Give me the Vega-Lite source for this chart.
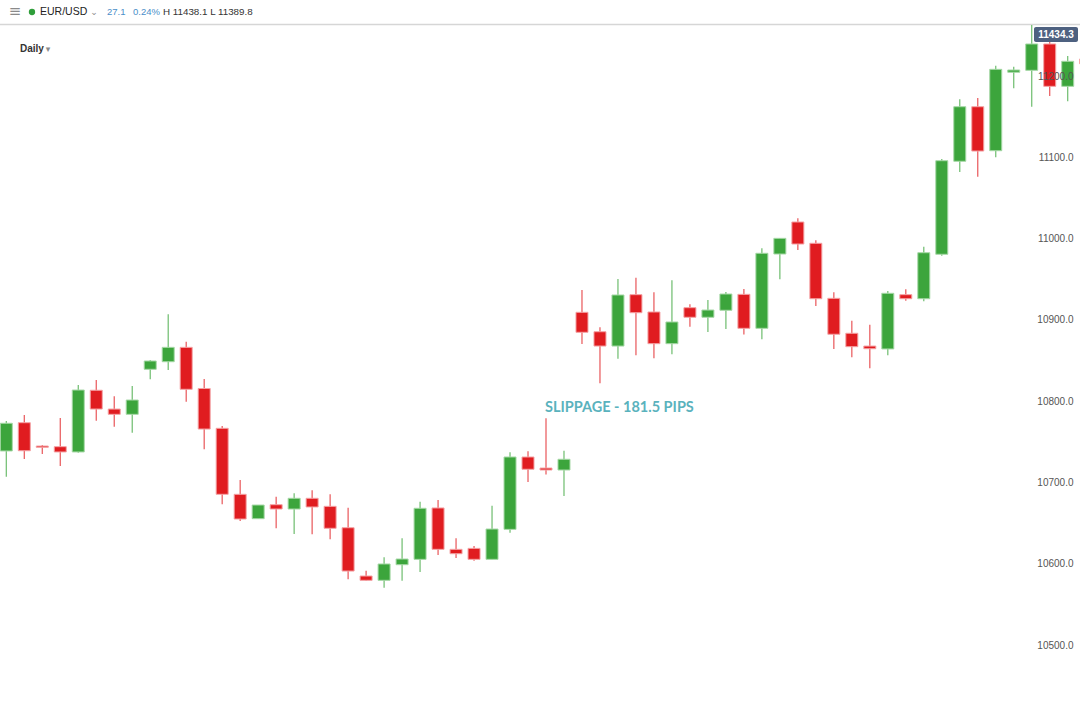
{
  "$schema": "https://vega.github.io/schema/vega-lite/v6.json",
  "width": 1080,
  "height": 702,
  "autosize": "none",
  "padding": 0,
  "background": "white",
  "config": {"view": {"stroke": null}, "axis": {"zindex": 2}},
  "datasets": {
    "candles": [
      {"i": 1, "o": 10738.7, "c": 10772.8, "h": 10775.6, "l": 10707.1},
      {"i": 2, "o": 10773.5, "c": 10739.0, "h": 10783.0, "l": 10728.8},
      {"i": 3, "o": 10744.8, "c": 10743.2, "h": 10746.1, "l": 10735.0},
      {"i": 4, "o": 10744.0, "c": 10737.5, "h": 10779.3, "l": 10720.2},
      {"i": 5, "o": 10737.5, "c": 10813.7, "h": 10819.9, "l": 10736.6},
      {"i": 6, "o": 10813.4, "c": 10790.3, "h": 10826.0, "l": 10776.0},
      {"i": 7, "o": 10790.3, "c": 10783.8, "h": 10806.0, "l": 10768.6},
      {"i": 8, "o": 10783.8, "c": 10801.4, "h": 10818.6, "l": 10761.2},
      {"i": 9, "o": 10839.2, "c": 10849.4, "h": 10850.6, "l": 10826.9},
      {"i": 10, "o": 10848.5, "c": 10866.2, "h": 10906.8, "l": 10838.3},
      {"i": 11, "o": 10866.2, "c": 10814.6, "h": 10873.1, "l": 10799.3},
      {"i": 12, "o": 10815.6, "c": 10765.7, "h": 10827.2, "l": 10740.8},
      {"i": 13, "o": 10766.6, "c": 10685.4, "h": 10769.4, "l": 10673.1},
      {"i": 14, "o": 10685.4, "c": 10655.0, "h": 10703.0, "l": 10652.6},
      {"i": 15, "o": 10655.4, "c": 10672.2, "h": 10672.2, "l": 10655.4},
      {"i": 16, "o": 10672.6, "c": 10667.3, "h": 10682.5, "l": 10643.6},
      {"i": 17, "o": 10667.3, "c": 10680.5, "h": 10686.6, "l": 10636.6},
      {"i": 18, "o": 10680.5, "c": 10669.8, "h": 10690.3, "l": 10636.2},
      {"i": 19, "o": 10670.6, "c": 10643.6, "h": 10685.4, "l": 10630.1},
      {"i": 20, "o": 10644.3, "c": 10591.0, "h": 10668.9, "l": 10580.8},
      {"i": 21, "o": 10584.9, "c": 10579.6, "h": 10591.4, "l": 10579.1},
      {"i": 22, "o": 10579.6, "c": 10599.7, "h": 10607.9, "l": 10570.5},
      {"i": 23, "o": 10598.8, "c": 10605.8, "h": 10631.3, "l": 10579.1},
      {"i": 24, "o": 10605.4, "c": 10668.2, "h": 10676.3, "l": 10589.8},
      {"i": 25, "o": 10668.6, "c": 10617.7, "h": 10678.4, "l": 10610.7},
      {"i": 26, "o": 10617.7, "c": 10612.3, "h": 10631.3, "l": 10607.0},
      {"i": 27, "o": 10618.9, "c": 10605.4, "h": 10621.8, "l": 10603.7},
      {"i": 28, "o": 10605.4, "c": 10642.7, "h": 10671.4, "l": 10605.4},
      {"i": 29, "o": 10642.3, "c": 10731.3, "h": 10737.1, "l": 10638.2},
      {"i": 30, "o": 10731.3, "c": 10716.2, "h": 10738.3, "l": 10700.5},
      {"i": 31, "o": 10717.7, "c": 10715.3, "h": 10778.9, "l": 10709.9},
      {"i": 32, "o": 10715.3, "c": 10728.5, "h": 10739.0, "l": 10683.3},
      {"i": 33, "o": 10909.3, "c": 10884.7, "h": 10936.7, "l": 10870.3},
      {"i": 34, "o": 10885.4, "c": 10867.8, "h": 10890.9, "l": 10822.0},
      {"i": 35, "o": 10867.8, "c": 10930.6, "h": 10950.3, "l": 10852.2},
      {"i": 36, "o": 10931.0, "c": 10908.8, "h": 10951.9, "l": 10856.4},
      {"i": 37, "o": 10909.7, "c": 10870.7, "h": 10933.9, "l": 10852.7},
      {"i": 38, "o": 10870.7, "c": 10897.4, "h": 10948.7, "l": 10857.6},
      {"i": 39, "o": 10915.0, "c": 10903.2, "h": 10919.1, "l": 10891.6},
      {"i": 40, "o": 10903.2, "c": 10912.1, "h": 10924.4, "l": 10885.1},
      {"i": 41, "o": 10911.8, "c": 10931.8, "h": 10934.3, "l": 10888.7},
      {"i": 42, "o": 10931.4, "c": 10889.6, "h": 10938.0, "l": 10882.0},
      {"i": 43, "o": 10889.6, "c": 10981.9, "h": 10988.0, "l": 10876.1},
      {"i": 44, "o": 10981.0, "c": 11000.3, "h": 11000.3, "l": 10949.9},
      {"i": 45, "o": 11020.4, "c": 10993.3, "h": 11024.9, "l": 10986.0},
      {"i": 46, "o": 10994.2, "c": 10926.0, "h": 10997.9, "l": 10917.1},
      {"i": 47, "o": 10926.5, "c": 10882.3, "h": 10933.9, "l": 10864.2},
      {"i": 48, "o": 10883.5, "c": 10867.0, "h": 10898.9, "l": 10853.9},
      {"i": 49, "o": 10867.8, "c": 10864.5, "h": 10894.0, "l": 10840.4},
      {"i": 50, "o": 10864.2, "c": 10932.7, "h": 10935.5, "l": 10856.4},
      {"i": 51, "o": 10931.0, "c": 10926.0, "h": 10937.6, "l": 10923.6},
      {"i": 52, "o": 10926.0, "c": 10982.6, "h": 10990.0, "l": 10922.8},
      {"i": 53, "o": 10980.7, "c": 11095.8, "h": 11097.9, "l": 10978.9},
      {"i": 54, "o": 11095.1, "c": 11162.2, "h": 11171.3, "l": 11081.9},
      {"i": 55, "o": 11162.2, "c": 11107.7, "h": 11173.0, "l": 11076.1},
      {"i": 56, "o": 11108.1, "c": 11208.2, "h": 11212.7, "l": 11100.0},
      {"i": 57, "o": 11204.6, "c": 11207.4, "h": 11211.4, "l": 11184.9},
      {"i": 58, "o": 11207.0, "c": 11239.4, "h": 11262.7, "l": 11162.2},
      {"i": 59, "o": 11239.4, "c": 11187.3, "h": 11250.4, "l": 11175.4},
      {"i": 60, "o": 11187.3, "c": 11218.1, "h": 11224.6, "l": 11168.9},
      {"i": 61, "o": 11221.0, "c": 11215.0, "h": 11224.0, "l": 11210.0}
    ]
  },
  "layer": [
    {
      "data": {"values": [{"v": 11263.4}]},
      "mark": {"type": "rule", "color": "#d6d6d6", "strokeWidth": 1.5},
      "encoding": {
        "y": {"field": "v", "type": "quantitative", "scale": {"domain": [10429.9, 11293.5], "nice": false, "zero": false, "padding": 0}, "axis": {"orient": "right", "values": [10500, 10600, 10700, 10800, 10900, 11000, 11100, 11200], "format": ".1f", "domain": false, "ticks": false, "grid": false, "title": null, "labelAlign": "right", "labelPadding": -7, "labelFont": "Liberation Sans", "labelFontSize": 10, "labelColor": "#555555", "labelBaseline": "middle", "zindex": 2}}
      }
    },
    {
      "data": {"name": "candles"},
      "mark": {"type": "rule", "strokeWidth": 1.2, "opacity": 0.75, "clip": true},
      "encoding": {
        "x": {"field": "i", "type": "quantitative", "scale": {"domain": [0.6498, 60.683], "nice": false, "zero": false, "padding": 0}, "axis": null},
        "y": {"field": "l", "type": "quantitative"},
        "y2": {"field": "h"},
        "color": {"condition": {"test": "datum.c >= datum.o", "value": "#3ca53c"}, "value": "#e01c20"}
      }
    },
    {
      "data": {"name": "candles"},
      "mark": {"type": "bar", "size": 12, "strokeWidth": 1, "clip": true},
      "encoding": {
        "x": {"field": "i", "type": "quantitative"},
        "y": {"field": "o", "type": "quantitative"},
        "y2": {"field": "c"},
        "fill": {"condition": {"test": "datum.c >= datum.o", "value": "#3ca53c"}, "value": "#e01c20"},
        "stroke": {"condition": {"test": "datum.c >= datum.o", "value": "#a6d8a6"}, "value": "#f4a3a5"}
      }
    },
    {
      "data": {"values": [{"i": 30.94, "v": 10791.6, "t": "SLIPPAGE - 181.5 PIPS"}]},
      "mark": {"type": "text", "align": "left", "baseline": "middle", "font": "Lato", "fontWeight": "bold", "fontSize": 14.5, "color": "#5ab2bd"},
      "encoding": {
        "x": {"field": "i", "type": "quantitative"},
        "y": {"field": "v", "type": "quantitative"},
        "text": {"field": "t"}
      }
    },
    {
      "data": {"values": [{"i": 2.873, "v": 11278.7, "t": "EUR/USD"}]},
      "mark": {"type": "text", "align": "left", "baseline": "middle", "font": "Liberation Sans", "fontSize": 10.5, "color": "#222222"},
      "encoding": {
        "x": {"field": "i", "type": "quantitative"},
        "y": {"field": "v", "type": "quantitative"},
        "text": {"field": "t"}
      }
    },
    {
      "data": {"values": [{"i": 9.71, "v": 11278.7, "t": "H 11438.1 L 11389.8"}]},
      "mark": {"type": "text", "align": "left", "baseline": "middle", "font": "Liberation Sans", "fontSize": 9.8, "color": "#333333"},
      "encoding": {
        "x": {"field": "i", "type": "quantitative"},
        "y": {"field": "v", "type": "quantitative"},
        "text": {"field": "t"}
      }
    },
    {
      "data": {"values": [{"i": 6.597, "v": 11278.7, "t": "27.1"}, {"i": 8.043, "v": 11278.7, "t": "0.24%"}]},
      "mark": {"type": "text", "align": "left", "baseline": "middle", "font": "Liberation Sans", "fontSize": 9.5, "color": "#4a8fc9"},
      "encoding": {
        "x": {"field": "i", "type": "quantitative"},
        "y": {"field": "v", "type": "quantitative"},
        "text": {"field": "t"}
      }
    },
    {
      "data": {"values": [{"i": 1.4836, "v": 11279.5, "t": "≡", "s": "a"}, {"i": 5.875, "v": 11278.2, "t": "⌄", "s": "b"}, {"i": 3.318, "v": 11233.6, "t": "▾", "s": "b"}]},
      "mark": {"type": "text", "align": "center", "baseline": "middle", "font": "DejaVu Sans", "fontSize": 12, "color": "#8a8a8a"},
      "encoding": {
        "x": {"field": "i", "type": "quantitative"},
        "y": {"field": "v", "type": "quantitative"},
        "text": {"field": "t"},
        "size": {"field": "s", "type": "nominal", "scale": {"domain": ["a", "b"], "range": [15, 9]}, "legend": null}
      }
    },
    {
      "data": {"values": [{"i": 2.4285, "v": 11278.7}]},
      "mark": {"type": "circle", "size": 40, "color": "#2f9e3a", "opacity": 1},
      "encoding": {
        "x": {"field": "i", "type": "quantitative"},
        "y": {"field": "v", "type": "quantitative"}
      }
    },
    {
      "data": {"values": [{"i": 1.7615, "v": 11233.2, "t": "Daily"}]},
      "mark": {"type": "text", "align": "left", "baseline": "middle", "font": "Liberation Sans", "fontSize": 10, "fontWeight": 600, "color": "#333333"},
      "encoding": {
        "x": {"field": "i", "type": "quantitative"},
        "y": {"field": "v", "type": "quantitative"},
        "text": {"field": "t"}
      }
    },
    {
      "data": {"values": [{"a": 58.126, "b": 60.572, "y1": 11260.3, "y2": 11241.8}]},
      "mark": {"type": "rect", "color": "#4e6180", "cornerRadius": 2},
      "encoding": {
        "x": {"field": "a", "type": "quantitative"},
        "x2": {"field": "b"},
        "y": {"field": "y1", "type": "quantitative"},
        "y2": {"field": "y2"}
      }
    },
    {
      "data": {"values": [{"i": 59.349, "v": 11251.0, "t": "11434.3"}]},
      "mark": {"type": "text", "align": "center", "baseline": "middle", "font": "Liberation Sans", "fontSize": 10, "fontWeight": "bold", "color": "white"},
      "encoding": {
        "x": {"field": "i", "type": "quantitative"},
        "y": {"field": "v", "type": "quantitative"},
        "text": {"field": "t"}
      }
    }
  ],
  "resolve": {"scale": {"color": "independent", "size": "independent"}}
}
